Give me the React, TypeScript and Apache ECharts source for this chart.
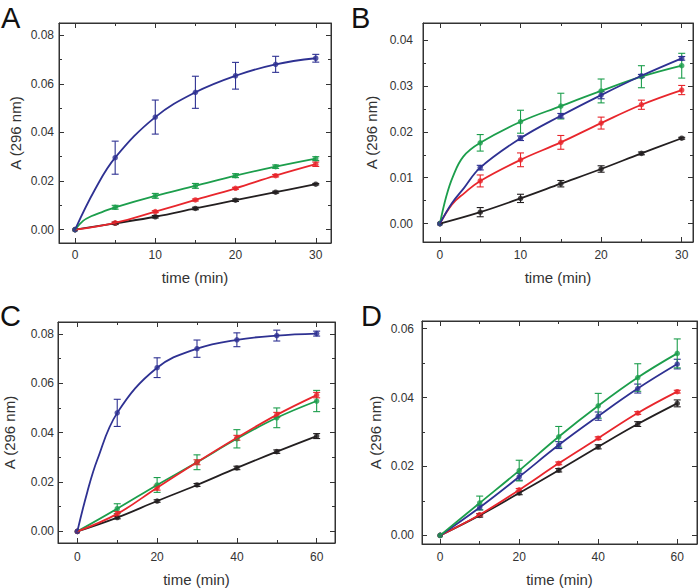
import React, { useEffect, useRef } from "react";
import * as echarts from "echarts";

// ---------- data ----------
const timesAB = [0, 5, 10, 15, 20, 25, 30];
const timesCD = [0, 10, 20, 30, 40, 50, 60];
const xTicksAB = [0, 10, 20, 30];
const xTicksCD = [0, 20, 40, 60];

// Panel A
const aBlack = [0, 0.0026, 0.0053, 0.0087, 0.0121, 0.0154, 0.0187];
const aBlackErr = [0, 0.0005, 0.0005, 0.0005, 0.0005, 0.0004, 0.0003];
const aRed = [0, 0.0028, 0.0074, 0.0122, 0.017, 0.0222, 0.0269];
const aRedErr = [0, 0.0003, 0.0004, 0.0004, 0.0004, 0.0005, 0.0009];
const aGreen = [0, 0.0092, 0.0139, 0.018, 0.0222, 0.0259, 0.0292];
const aGreenErr = [0, 0.0008, 0.001, 0.001, 0.0008, 0.0007, 0.0008];
const aBlue = [0, 0.0296, 0.0463, 0.0565, 0.0633, 0.068, 0.0705];
const aBlueErr = [0, 0.0068, 0.007, 0.0066, 0.0055, 0.0033, 0.0016];
const aGreenCurve = [[1, 0.0036], [2, 0.0055], [3.5, 0.0074]];
const aBlueCurve = [[2.5, 0.0166]];

// Panel B
const bBlack = [0, 0.0025, 0.0055, 0.0087, 0.0119, 0.0153, 0.0186];
const bBlackErr = [0, 0.001, 0.0009, 0.0007, 0.0007, 0.0003, 0.0002];
const bRed = [0, 0.0093, 0.0139, 0.0177, 0.0219, 0.0259, 0.0291];
const bRedErr = [0, 0.0013, 0.0015, 0.0015, 0.0013, 0.001, 0.001];
const bGreen = [0, 0.0176, 0.0222, 0.0256, 0.0289, 0.032, 0.0344];
const bGreenErr = [0, 0.0018, 0.0025, 0.0028, 0.0026, 0.0024, 0.0027];
const bBlue = [0, 0.0122, 0.0186, 0.0235, 0.028, 0.0322, 0.036];
const bBlueErr = [0, 0.0005, 0.0005, 0.0005, 0.0008, 0.0003, 0.0004];
const bGreenCurve = [[0.8, 0.006], [1.6, 0.0102], [2.9, 0.0146]];
const bBlueCurve = [[1.5, 0.0045], [3, 0.0078]];
const bRedCurve = [[1.5, 0.0042], [3, 0.0066]];

// Panel C
const cBlack = [0, 0.0056, 0.0123, 0.0188, 0.0257, 0.0323, 0.0386];
const cBlackErr = [0, 0.0005, 0.0005, 0.0006, 0.0007, 0.0007, 0.001];
const cRed = [0, 0.0071, 0.0177, 0.028, 0.0379, 0.0472, 0.0552];
const cRedErr = [0, 0.001, 0.001, 0.001, 0.001, 0.001, 0.0011];
const cGreen = [0, 0.0092, 0.0188, 0.028, 0.0375, 0.046, 0.0528];
const cGreenErr = [0, 0.002, 0.003, 0.003, 0.0037, 0.004, 0.0043];
const cBlue = [0, 0.048, 0.0663, 0.074, 0.0776, 0.0793, 0.0801];
const cBlueErr = [0, 0.0055, 0.004, 0.0035, 0.0028, 0.0022, 0.001];
const cBlueCurve = [[2.5, 0.016], [5, 0.029]];

// Panel D
const dBlack = [0, 0.0058, 0.0123, 0.0189, 0.0257, 0.0323, 0.0383];
const dBlackErr = [0, 0.0005, 0.0005, 0.0005, 0.0006, 0.0007, 0.001];
const dRed = [0, 0.006, 0.0132, 0.0209, 0.0282, 0.0355, 0.0417];
const dRedErr = [0, 0.0003, 0.0004, 0.0004, 0.0004, 0.0004, 0.0004];
const dGreen = [0, 0.0094, 0.0188, 0.0286, 0.0376, 0.0458, 0.0528];
const dGreenErr = [0, 0.002, 0.003, 0.003, 0.0036, 0.004, 0.0042];
const dBlue = [0, 0.0081, 0.017, 0.0262, 0.0346, 0.0426, 0.0497];
const dBlueErr = [0, 0.0007, 0.001, 0.001, 0.0012, 0.0013, 0.0014];

const panelLetters = ["A", "B", "C", "D"];
const yTickStep = [0.02, 0.01, 0.02, 0.02];

// ---------- styles ----------
const BLACK = "#231f20";
const RED = "#e8262c";
const GREEN = "#1c9e4c";
const BLUE = "#2e3192";
const AXIS = "#333333";
const FONT = "Liberation Sans";

type SetDef = { vals: number[]; errs: number[]; color: string; extra: number[][] };

const panels = [
  {
    grid: { left: 59, top: 23, width: 272, height: 220 },
    xMin: -2, xMax: 31.9, yMin: -0.0055, yMax: 0.085,
    times: timesAB, xTicks: xTicksAB,
    yLabelMargin: 5, yNameGap: 36, xLabelMargin: 6, xNameGap: 27,
    letter: { x: 1, y: 3 },
    sets: [
      { vals: aBlack, errs: aBlackErr, color: BLACK, extra: [] },
      { vals: aRed, errs: aRedErr, color: RED, extra: [] },
      { vals: aGreen, errs: aGreenErr, color: GREEN, extra: aGreenCurve },
      { vals: aBlue, errs: aBlueErr, color: BLUE, extra: aBlueCurve },
    ] as SetDef[],
  },
  {
    grid: { left: 423, top: 23, width: 270, height: 219 },
    xMin: -2.1, xMax: 31.4, yMin: -0.004, yMax: 0.0437,
    times: timesAB, xTicks: xTicksAB,
    yLabelMargin: 10, yNameGap: 44, xLabelMargin: 7, xNameGap: 28,
    letter: { x: 351, y: 3 },
    sets: [
      { vals: bBlack, errs: bBlackErr, color: BLACK, extra: [] },
      { vals: bRed, errs: bRedErr, color: RED, extra: bRedCurve },
      { vals: bGreen, errs: bGreenErr, color: GREEN, extra: bGreenCurve },
      { vals: bBlue, errs: bBlueErr, color: BLUE, extra: bBlueCurve },
    ] as SetDef[],
  },
  {
    grid: { left: 58, top: 322, width: 277, height: 223 },
    xMin: -4.85, xMax: 64.6, yMin: -0.0047, yMax: 0.0848,
    times: timesCD, xTicks: xTicksCD,
    yLabelMargin: 4, yNameGap: 41, xLabelMargin: 8, xNameGap: 29,
    letter: { x: 0, y: 301 },
    sets: [
      { vals: cBlack, errs: cBlackErr, color: BLACK, extra: [] },
      { vals: cGreen, errs: cGreenErr, color: GREEN, extra: [] },
      { vals: cRed, errs: cRedErr, color: RED, extra: [] },
      { vals: cBlue, errs: cBlueErr, color: BLUE, extra: cBlueCurve },
    ] as SetDef[],
  },
  {
    grid: { left: 422, top: 321, width: 276, height: 224 },
    xMin: -4.6, xMax: 65, yMin: -0.0025, yMax: 0.0622,
    times: timesCD, xTicks: xTicksCD,
    yLabelMargin: 8, yNameGap: 39, xLabelMargin: 7, xNameGap: 28,
    letter: { x: 361, y: 301 },
    sets: [
      { vals: dBlack, errs: dBlackErr, color: BLACK, extra: [] },
      { vals: dRed, errs: dRedErr, color: RED, extra: [] },
      { vals: dBlue, errs: dBlueErr, color: BLUE, extra: [] },
      { vals: dGreen, errs: dGreenErr, color: GREEN, extra: [] },
    ] as SetDef[],
  },
];

function isMultiple(v: number, step: number) {
  const r = v / step;
  return Math.abs(r - Math.round(r)) < 1e-6;
}

function buildOption() {
  const grids: any[] = [];
  const xAxes: any[] = [];
  const yAxes: any[] = [];
  const series: any[] = [];
  const graphics: any[] = [];

  panels.forEach((p, g) => {
    grids.push({ ...p.grid, show: true, borderColor: AXIS, borderWidth: 1, backgroundColor: "transparent", containLabel: false });
    const xStep = p.xTicks[1] - p.xTicks[0];
    const yStep = yTickStep[g];
    const common = (min: number, max: number) => ({
      type: "value",
      gridIndex: g,
      min,
      max,
      splitNumber: 4,
      axisLine: { show: true, onZero: false, lineStyle: { color: AXIS, width: 1 } },
      axisTick: { show: true, inside: true, length: 5, lineStyle: { color: AXIS, width: 1 } },
      minorTick: { show: true, splitNumber: 2, length: 3, lineStyle: { color: AXIS, width: 1 } },
      splitLine: { show: false },
      minorSplitLine: { show: false },
    });
    const xLabel = {
      show: true,
      margin: p.xLabelMargin,
      fontSize: 12,
      fontFamily: FONT,
      color: AXIS,
      formatter: (v: number) => (isMultiple(v, xStep) ? String(Math.round(v)) : ""),
    };
    const yLabel = {
      show: true,
      margin: p.yLabelMargin,
      fontSize: 12,
      fontFamily: FONT,
      color: AXIS,
      formatter: (v: number) => (isMultiple(v, yStep) ? v.toFixed(2) : ""),
    };
    xAxes.push({
      ...common(p.xMin, p.xMax),
      position: "bottom",
      axisLabel: xLabel,
      name: "time (min)",
      nameLocation: "middle",
      nameGap: p.xNameGap,
      nameTextStyle: { fontSize: 15, fontFamily: FONT, color: AXIS },
    });
    xAxes.push({ ...common(p.xMin, p.xMax), position: "top", axisLabel: { show: false } });
    yAxes.push({
      ...common(p.yMin, p.yMax),
      position: "left",
      axisLabel: yLabel,
      name: "A (296 nm)",
      nameLocation: "middle",
      nameGap: p.yNameGap,
      nameRotate: 90,
      nameTextStyle: { fontSize: 15, fontFamily: FONT, color: AXIS },
    });
    yAxes.push({ ...common(p.yMin, p.yMax), position: "right", axisLabel: { show: false } });

    const xi = g * 2;
    const yi = g * 2;
    p.sets.forEach((s) => {
      // error bars
      series.push({
        type: "custom",
        xAxisIndex: xi,
        yAxisIndex: yi,
        silent: true,
        data: p.times
          .map((t, i) => [t, s.vals[i] - s.errs[i], s.vals[i] + s.errs[i], s.errs[i]])
          .filter((d) => d[3] > 0),
        encode: { x: 0, y: [1, 2] },
        renderItem: (params: any, api: any) => {
          const lo = api.coord([api.value(0), api.value(1)]);
          const hi = api.coord([api.value(0), api.value(2)]);
          const w = 3.5;
          const st = { stroke: s.color, lineWidth: 1.1 };
          return {
            type: "group",
            children: [
              { type: "line", shape: { x1: lo[0], y1: lo[1], x2: hi[0], y2: hi[1] }, style: st },
              { type: "line", shape: { x1: lo[0] - w, y1: lo[1], x2: lo[0] + w, y2: lo[1] }, style: st },
              { type: "line", shape: { x1: hi[0] - w, y1: hi[1], x2: hi[0] + w, y2: hi[1] }, style: st },
            ],
          };
        },
      });
      // fitted curve
      const pts = p.times.map((t, i) => [t, s.vals[i]]).concat(s.extra).sort((a, b) => a[0] - b[0]);
      series.push({
        type: "line",
        xAxisIndex: xi,
        yAxisIndex: yi,
        data: pts,
        smooth: 0.4,
        showSymbol: false,
        symbol: "none",
        lineStyle: { color: s.color, width: 1.8 },
        silent: true,
      });
      // markers
      series.push({
        type: "scatter",
        xAxisIndex: xi,
        yAxisIndex: yi,
        data: p.times.map((t, i) => [t, s.vals[i]]),
        symbol: "circle",
        symbolSize: 5.5,
        itemStyle: { color: s.color },
        silent: true,
      });
    });

    graphics.push({
      type: "text",
      left: p.letter.x,
      top: p.letter.y,
      style: { text: panelLetters[g], fontSize: 29, fontFamily: FONT, fill: "#111" },
    });
  });

  return {
    animation: false,
    backgroundColor: "#ffffff",
    grid: grids,
    xAxis: xAxes,
    yAxis: yAxes,
    series,
    graphic: graphics,
  };
}

export default function App() {
  const ref = useRef<HTMLDivElement>(null);
  useEffect(() => {
    if (!ref.current) return;
    const chart = echarts.init(ref.current, undefined, { renderer: "svg" });
    chart.setOption(buildOption() as any);
    return () => chart.dispose();
  }, []);
  return (
    <div
      ref={ref}
      style={{ position: "absolute", left: 0, top: 0, width: 700, height: 588, background: "#fff" }}
    />
  );
}
